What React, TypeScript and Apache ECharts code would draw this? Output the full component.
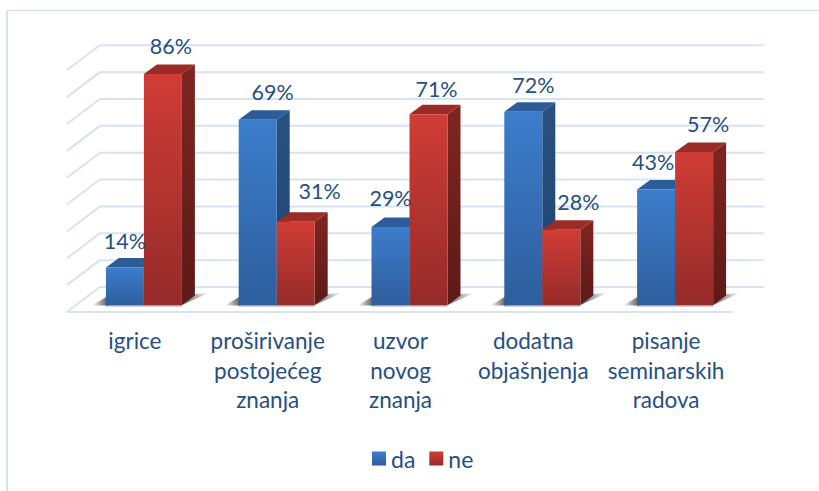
import React, { useEffect, useRef } from "react";
import * as echarts from "echarts";

const categories = [
  "igrice",
  "proširivanje\npostojećeg\nznanja",
  "uzvor\nnovog\nznanja",
  "dodatna\nobjašnjenja",
  "pisanje\nseminarskih\nradova",
];
const daValues = [14, 69, 29, 72, 43];
const neValues = [86, 31, 71, 28, 57];
const axisTicks = [0, 10, 20, 30, 40, 50, 60, 70, 80, 90];

// hand-placed label nudges of the original, as [dx, dy] from the bar's top centre
const daNudge = [[0, -26], [15, -28], [0, -29], [10, -27], [-3, -28]];
const neNudge = [[8, -28], [24, -31], [8, -25], [17, -28], [14, -28]];

const FONT = "Lato, Carlito, 'Open Sans', sans-serif";
const TEXT = "#264f82";
const WALL = "#d5e3f3";
const BAR_W = 38;
const DX = 13;
const DY = 9.5;

const grad = (a: string, b: string) =>
  new echarts.graphic.LinearGradient(0, 0, 0, 1, [
    { offset: 0, color: a },
    { offset: 1, color: b },
  ]);

const blue = { front: ["#3c7dcb", "#2e5e9e"], side: ["#28527f", "#1f4272"], top: "#2c5d98" };
const red = { front: ["#d03c36", "#952b29"], side: ["#80251f", "#5c1a18"], top: "#9b2b27" };

const barRender = (pal: any, side: number) => (_: any, api: any) => {
  const i = api.value(0);
  const [cx, yTop] = api.coord([i, api.value(1)]);
  const [, y0] = api.coord([i, 0]);
  const x0 = side < 0 ? cx - BAR_W : cx;
  const x1 = x0 + BAR_W;
  return {
    type: "group",
    children: [
      {
        type: "polygon",
        shape: { points: [[x1, yTop], [x1 + DX, yTop - DY], [x1 + DX, y0 - DY], [x1, y0]] },
        style: { fill: grad(pal.side[0], pal.side[1]) },
      },
      {
        type: "polygon",
        shape: { points: [[x0, yTop], [x0 + DX, yTop - DY], [x1 + DX, yTop - DY], [x1, yTop]] },
        style: { fill: pal.top },
      },
      {
        type: "rect",
        shape: { x: x0, y: yTop, width: BAR_W, height: y0 - yTop },
        style: { fill: grad(pal.front[0], pal.front[1]) },
      },
    ],
  };
};

const labelRender = (nudge: number[][], side: number) => (_: any, api: any) => {
  const i = api.value(0);
  const v = api.value(1);
  const [cx, yTop] = api.coord([i, v]);
  return {
    type: "text",
    style: {
      text: v + "%",
      x: cx + (side * BAR_W) / 2 + nudge[i][0],
      y: yTop + nudge[i][1],
      fill: TEXT,
      fontSize: 21.5,
      fontFamily: FONT,
      align: "center",
      verticalAlign: "middle",
    },
  };
};

const wallRender = (_: any, api: any) => {
  const v = api.value(0);
  const [x, y] = api.coord([0, v]);
  const left = x - 44; // wall starts at 100, category centre at 144
  const wy = y - 18;
  const children: any[] = [
    { type: "line", shape: { x1: left, y1: wy, x2: left + 664, y2: wy }, style: { stroke: WALL, lineWidth: 2 } },
    { type: "line", shape: { x1: left, y1: wy, x2: left - 33, y2: wy + 25 }, style: { stroke: WALL, lineWidth: 2 } },
  ];
  if (v === 0) {
    children.push({
      type: "line",
      shape: { x1: left - 33, y1: wy + 25, x2: left + 632, y2: wy + 25 },
      style: { stroke: WALL, lineWidth: 2 },
    });
  }
  return { type: "group", children };
};

const shadowRender = (_: any, api: any) => {
  const [cx, y0] = api.coord([api.value(0), 0]);
  const xl = cx - BAR_W;
  const xr = cx + BAR_W;
  return {
    type: "group",
    children: [
      {
        type: "polygon",
        shape: { points: [[xl - 14, y0 + 0.5], [xl + 2, y0 + 0.5], [xl + 2, y0 - 9]] },
        style: {
          fill: new echarts.graphic.LinearGradient(1, 0, 0, 0, [
            { offset: 0, color: "rgba(60,60,60,0.85)" },
            { offset: 1, color: "rgba(60,60,60,0)" },
          ]),
        },
      },
      {
        type: "polygon",
        shape: { points: [[xr - 1, y0 + 0.5], [xr + 13, y0 - 11], [xr + 27, y0 - 12]] },
        style: {
          fill: new echarts.graphic.LinearGradient(0, 0, 1, 0, [
            { offset: 0, color: "rgba(60,60,60,0.85)" },
            { offset: 1, color: "rgba(60,60,60,0)" },
          ]),
        },
      },
      {
        type: "rect",
        shape: { x: xl, y: y0, width: BAR_W * 2, height: 1.5 },
        style: { fill: "rgba(90,90,90,0.55)" },
      },
    ],
  };
};

const pairs = (values: number[]) => values.map((v, i) => [i, v]);

export default function App() {
  const ref = useRef<HTMLDivElement>(null);
  useEffect(() => {
    const chart = echarts.init(ref.current!, undefined, { renderer: "svg" });
    chart.setOption({
      animation: false,
      backgroundColor: "#ffffff",
      grid: { left: 77.5, width: 664, top: 63.3, height: 241.7 },
      xAxis: {
        type: "category",
        data: categories,
        axisLine: { show: false },
        axisTick: { show: false },
        axisLabel: {
          interval: 0,
          margin: 21,
          color: TEXT,
          fontSize: 22.5,
          fontFamily: FONT,
          lineHeight: 29.5,
          padding: [0, 18, 0, 0],
        },
      },
      yAxis: { type: "value", min: 0, max: 90, interval: 10, show: false },
      legend: {
        left: 367,
        top: 442,
        data: [
          { name: "da", itemStyle: { color: grad(blue.front[0], blue.front[1]) } },
          { name: "ne", itemStyle: { color: grad(red.front[0], red.front[1]) } },
        ],
        icon: "rect",
        itemWidth: 14,
        itemHeight: 14,
        itemGap: 14,
        selectedMode: false,
        textStyle: { color: TEXT, fontSize: 23, fontFamily: FONT },
      },
      graphic: [
        { type: "line", shape: { x1: 7, y1: 10.5, x2: 819, y2: 10.5 }, style: { stroke: WALL, lineWidth: 1.5 }, silent: true },
        { type: "line", shape: { x1: 7, y1: 10, x2: 7, y2: 491 }, style: { stroke: WALL, lineWidth: 2 }, silent: true },
      ],
      series: [
        {
          name: "wall",
          type: "custom",
          z: 1,
          silent: true,
          renderItem: wallRender,
          encode: { y: 0 },
          data: axisTicks.map((t) => [t]),
        },
        {
          name: "shadow",
          type: "custom",
          z: 2,
          silent: true,
          renderItem: shadowRender,
          encode: { x: 0 },
          data: categories.map((_, i) => [i]),
        },
        {
          name: "da",
          type: "custom",
          z: 3,
          renderItem: barRender(blue, -1),
          encode: { x: 0, y: 1 },
          itemStyle: { color: blue.front[0] },
          data: pairs(daValues),
        },
        {
          name: "ne",
          type: "custom",
          z: 4,
          renderItem: barRender(red, 1),
          encode: { x: 0, y: 1 },
          itemStyle: { color: red.front[0] },
          data: pairs(neValues),
        },
        {
          name: "da labels",
          type: "custom",
          z: 5,
          renderItem: labelRender(daNudge, -1),
          encode: { x: 0, y: 1 },
          data: pairs(daValues),
        },
        {
          name: "ne labels",
          type: "custom",
          z: 5,
          renderItem: labelRender(neNudge, 1),
          encode: { x: 0, y: 1 },
          data: pairs(neValues),
        },
      ],
    });
    return () => chart.dispose();
  }, []);
  return <div ref={ref} style={{ position: "fixed", left: 0, top: 0, width: 819, height: 491 }} />;
}
